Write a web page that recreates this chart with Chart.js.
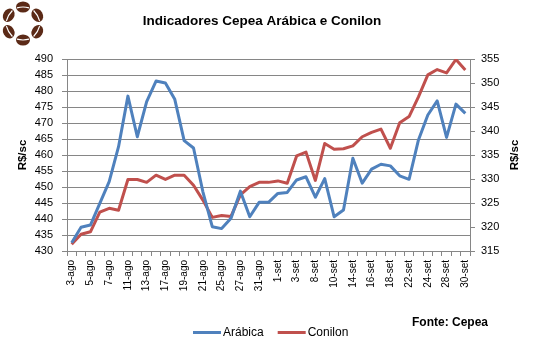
<!DOCTYPE html>
<html>
<head>
<meta charset="utf-8">
<script src="https://cdn.jsdelivr.net/npm/chart.js@4.4.1/dist/chart.umd.min.js"></script>
<style>
  html, body { margin: 0; padding: 0; background: #fff; }
  canvas { display: block; }
</style>
</head>
<body>
<canvas id="cepeaChart" width="535" height="354"></canvas>
<script>
// dias úteis ago-set (o índice 21 é uma linha extra da planilha)
const dates = [
  '3-ago', '4-ago', '5-ago', '6-ago', '7-ago', '10-ago', '11-ago', '12-ago', '13-ago', '14-ago',
  '17-ago', '18-ago', '19-ago', '20-ago', '21-ago', '24-ago', '25-ago', '26-ago', '27-ago', '28-ago',
  '31-ago', '31-ago', '1-set', '2-set', '3-set', '4-set', '8-set', '9-set', '10-set', '11-set',
  '14-set', '15-set', '16-set', '17-set', '18-set', '21-set', '22-set', '23-set', '24-set', '25-set',
  '28-set', '29-set', '30-set'
];

const arabica = [
  432.6, 437.4, 438.1, 444.9, 451.7, 462.6, 478.4, 465.7, 476.7, 483.1,
  482.5, 477.4, 464.5, 462.2, 448.5, 437.6, 437.0, 440.2, 448.7, 440.7,
  445.2, 445.2, 448.0, 448.3, 452.2, 453.2, 446.8, 452.6, 440.7, 442.8,
  459.0, 451.2, 455.6, 457.1, 456.6, 453.5, 452.4, 464.7, 472.5, 476.9,
  465.5, 475.9, 473.0
];

const conilon = [
  316.4, 318.5, 319.0, 323.1, 323.9, 323.5, 329.9, 329.9, 329.3, 330.8,
  329.9, 330.8, 330.8, 328.7, 325.6, 322.0, 322.4, 322.2, 326.7, 328.4,
  329.3, 329.3, 329.6, 329.1, 334.8, 335.6, 329.7, 337.4, 336.2, 336.3,
  336.9, 338.8, 339.7, 340.4, 336.4, 341.7, 343.0, 347.1, 351.7, 352.8,
  352.1, 354.9, 352.7
];

const titleText = 'Indicadores Cepea Arábica e Conilon';
const unitText = 'R$/sc';
const sourceText = 'Fonte: Cepea';

const FONT = '"Liberation Sans", Arial, sans-serif';
const GRID = '#868686';

function drawLogo(ctx, cx, cy) {
  const r = 16.5;
  for (let k = 0; k < 6; k++) {
    const a = -Math.PI / 2 + k * Math.PI / 3;
    ctx.save();
    ctx.translate(cx + r * Math.cos(a), cy + r * Math.sin(a));
    ctx.rotate(a + Math.PI / 2);
    ctx.fillStyle = '#5b2a17';
    ctx.beginPath();
    ctx.ellipse(0, 0, 7, 5.5, 0, 0, Math.PI * 2);
    ctx.fill();
    ctx.strokeStyle = '#fff';
    ctx.lineWidth = 1.2;
    ctx.beginPath();
    ctx.moveTo(-6, 0.8);
    ctx.quadraticCurveTo(0, -0.8, 6, 0.8);
    ctx.stroke();
    ctx.restore();
  }
}

const decor = {
  id: 'decor',
  afterDraw(chart) {
    const ctx = chart.ctx;
    ctx.save();
    drawLogo(ctx, 23, 23.5);

    ctx.fillStyle = '#000';
    ctx.textBaseline = 'middle';
    ctx.textAlign = 'center';
    ctx.font = 'bold 13.5px ' + FONT;
    ctx.fillText(titleText, 262, 21);

    // títulos dos eixos (ambos lidos de baixo para cima)
    ctx.font = 'bold 11.5px ' + FONT;
    [23, 515].forEach(x => {
      ctx.save();
      ctx.translate(x, 155);
      ctx.rotate(-Math.PI / 2);
      ctx.fillText(unitText, 0, 0);
      ctx.restore();
    });

    // legenda
    ctx.textAlign = 'left';
    ctx.font = '12px ' + FONT;
    let x = 193;
    const y = 332.5;
    chart.data.datasets.forEach(ds => {
      ctx.strokeStyle = ds.borderColor;
      ctx.lineWidth = 3;
      ctx.beginPath();
      ctx.moveTo(x, y);
      ctx.lineTo(x + 28, y);
      ctx.stroke();
      x += 30;
      ctx.fillText(ds.label, x, y);
      x += ctx.measureText(ds.label).width + 14;
    });

    ctx.font = 'bold 12px ' + FONT;
    ctx.fillText(sourceText, 412, 323);
    ctx.restore();
  }
};

new Chart(document.getElementById('cepeaChart'), {
  type: 'line',
  data: {
    labels: dates,
    datasets: [
      {
        label: 'Arábica',
        data: arabica,
        yAxisID: 'y',
        borderColor: '#4f81bd',
        backgroundColor: '#4f81bd',
        borderWidth: 3,
        pointRadius: 0,
        borderJoinStyle: 'round',
        tension: 0
      },
      {
        label: 'Conilon',
        data: conilon,
        yAxisID: 'y1',
        borderColor: '#c0504d',
        backgroundColor: '#c0504d',
        borderWidth: 3,
        pointRadius: 0,
        borderJoinStyle: 'round',
        tension: 0
      }
    ]
  },
  options: {
    responsive: false,
    animation: false,
    devicePixelRatio: 1,
    layout: { padding: { top: 59, left: 0, right: 0, bottom: 0 } },
    plugins: {
      legend: { display: false },
      title: { display: false },
      tooltip: { enabled: false }
    },
    scales: {
      x: {
        offset: true,
        grid: { offset: true, drawOnChartArea: false, color: GRID, tickLength: 5 },
        border: { color: GRID },
        ticks: {
          autoSkip: false,
          maxRotation: 90,
          minRotation: 90,
          padding: 4,
          color: '#000',
          font: { family: FONT, size: 10 },
          callback: (v, i) => (i % 2 === 0 ? dates[i] : '')
        },
        afterFit: s => { s.height = 103; }
      },
      y: {
        position: 'left',
        min: 430,
        max: 490,
        grid: { color: GRID, tickLength: 5 },
        border: { color: GRID },
        ticks: { stepSize: 5, autoSkip: false, padding: 9, color: '#000', font: { family: FONT, size: 11 } },
        afterFit: s => { s.width = 67; }
      },
      y1: {
        position: 'right',
        min: 315,
        max: 355,
        grid: { drawOnChartArea: false, color: GRID, tickLength: 5 },
        border: { color: GRID },
        ticks: { stepSize: 5, autoSkip: false, padding: 6, color: '#000', font: { family: FONT, size: 11 } },
        afterFit: s => { s.width = 65; }
      }
    }
  },
  plugins: [decor]
});
</script>
</body>
</html>
